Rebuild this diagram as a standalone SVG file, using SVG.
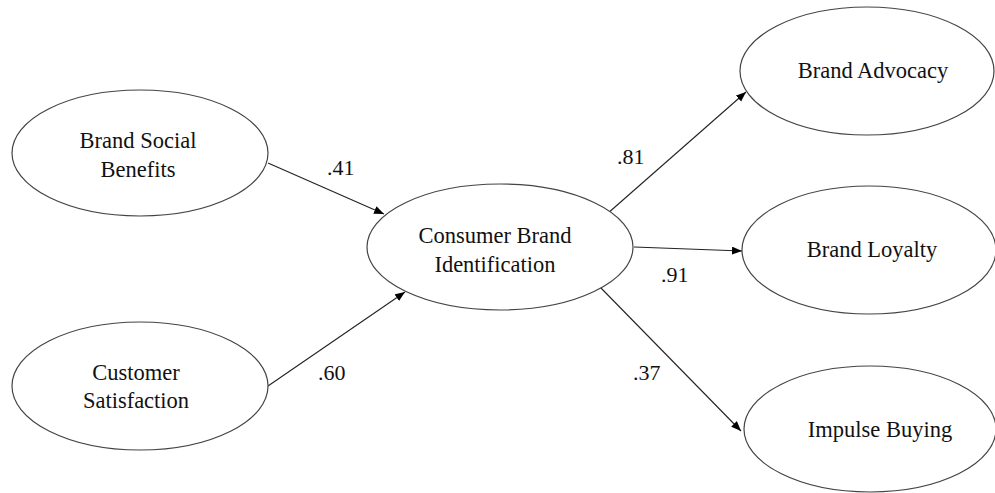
<svg xmlns="http://www.w3.org/2000/svg" width="995" height="493" viewBox="0 0 995 493">
<defs>
<marker id="arr" markerUnits="userSpaceOnUse" markerWidth="12" markerHeight="10" refX="10" refY="4" orient="auto">
<path d="M0,0 L10,4 L0,8 Z" fill="#000"/>
</marker>
<style>
.node ellipse{fill:#fff;stroke:#444;stroke-width:1.2}
text{font-family:"Liberation Serif","Times New Roman",serif;font-size:22.5px;fill:#111}
.lbl{font-size:22px}
.mid{text-anchor:middle}
#connectors line{stroke:#222;stroke-width:1.1;marker-end:url(#arr)}
</style>
</defs>
<rect width="995" height="493" fill="#fff"/>
<g id="connectors">
<line x1="268" y1="163" x2="384" y2="214"/>
<line x1="268" y1="386" x2="405" y2="292"/>
<line x1="607" y1="214" x2="746" y2="92"/>
<line x1="634" y1="247" x2="742" y2="251"/>
<line x1="600" y1="287" x2="741" y2="431"/>
</g>
<g id="bsb" class="node">
<ellipse cx="140" cy="153" rx="128" ry="63"/>
<text class="mid" x="138" y="148">Brand Social</text>
<text class="mid" x="138" y="177">Benefits</text>
</g>
<g id="cs" class="node">
<ellipse cx="140" cy="386" rx="128" ry="64"/>
<text class="mid" x="136" y="380">Customer</text>
<text class="mid" x="136" y="408">Satisfaction</text>
</g>
<g id="cbi" class="node">
<ellipse cx="500" cy="247" rx="133" ry="63"/>
<text class="mid" x="495" y="243">Consumer Brand</text>
<text class="mid" x="495" y="272">Identification</text>
</g>
<g id="ba" class="node">
<ellipse cx="867" cy="71" rx="127" ry="64"/>
<text class="mid" x="873" y="78">Brand Advocacy</text>
</g>
<g id="bl" class="node">
<ellipse cx="869" cy="250" rx="127" ry="64"/>
<text class="mid" x="872" y="257">Brand Loyalty</text>
</g>
<g id="ib" class="node">
<ellipse cx="870" cy="429" rx="126" ry="63"/>
<text class="mid" x="880" y="437">Impulse Buying</text>
</g>
<g id="labels">
<text class="lbl" x="327" y="175">.41</text>
<text class="lbl" x="318" y="380">.60</text>
<text class="lbl" x="617" y="164">.81</text>
<text class="lbl" x="661" y="282">.91</text>
<text class="lbl" x="633" y="380">.37</text>
</g>
</svg>
